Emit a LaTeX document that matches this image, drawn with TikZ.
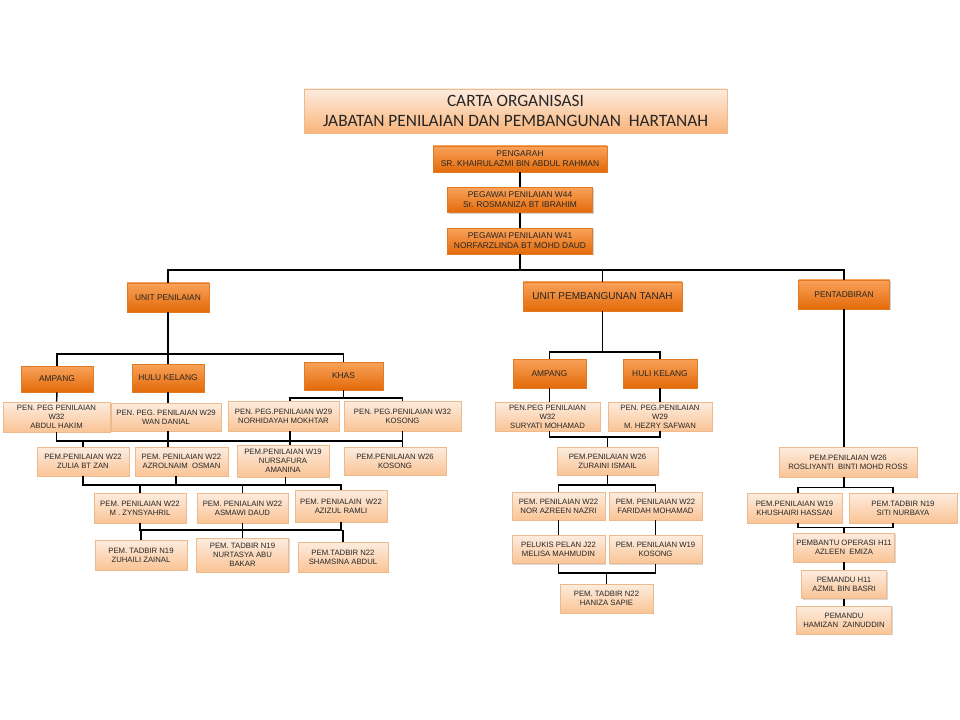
\documentclass[tikz,border=0pt]{standalone}
\usepackage{fontspec}
\setmainfont{Liberation Sans}
\newfontfamily\headfont{Carlito}
\usetikzlibrary{positioning, shadows}

\definecolor{orgtop}{HTML}{F9A25A}
\definecolor{orgbot}{HTML}{E36A08}
\definecolor{orgline}{HTML}{E07A24}
\definecolor{peachtop}{HTML}{FDECDF}
\definecolor{peachbot}{HTML}{FAC495}
\definecolor{peachline}{HTML}{EDBA8E}
\definecolor{headbot}{HTML}{F9B47A}

\begin{document}
\begin{tikzpicture}[
    x=0.75pt, y=-0.75pt,
    wh/.style 2 args={minimum width=#1*0.75pt, minimum height=#2*0.75pt},
    headbox/.style={draw=peachline, top color=peachtop, bottom color=headbot, align=center, inner sep=1pt, text=black!85, font=\headfont\fontsize{13}{15}\selectfont, drop shadow={shadow xshift=1pt, shadow yshift=-1pt, opacity=0.25}},
    dbox/.style={draw=orgline, top color=orgtop, bottom color=orgbot, align=center, inner sep=1pt, text=black!85, font=\fontsize{6.3}{7.5}\selectfont, drop shadow={shadow xshift=1pt, shadow yshift=-1pt, opacity=0.35}},
    lbox/.style={draw=peachline, top color=peachtop, bottom color=peachbot, align=center, inner sep=1pt, text=black!85, font=\fontsize{5.8}{6.8}\selectfont, drop shadow={shadow xshift=0.8pt, shadow yshift=-0.8pt, opacity=0.3}},
    conn/.style={line width=1.1pt}
  ]
    \useasboundingbox (0,0) rectangle (960,720);

    \node[headbox, wh={423}{44}] (head) at (515.5,111) {CARTA ORGANISASI\\JABATAN PENILAIAN DAN PEMBANGUNAN~ HARTANAH};

    \node[dbox, wh={174}{26}] (dir) at (520,159) {PENGARAH\\SR. KHAIRULAZMI BIN ABDUL RAHMAN};
    \node[dbox, wh={145}{25}, below=11.25pt of dir] (w44) {PEGAWAI PENILAIAN W44\\Sr. ROSMANIZA BT IBRAHIM};
    \node[dbox, wh={145}{26}, below=11.25pt of w44] (w41) {PEGAWAI PENILAIAN W41\\NORFARZLINDA BT MOHD DAUD};

    \node[dbox, wh={82}{29}] (unitpen) at (168,297.5) {UNIT PENILAIAN};
    \node[dbox, wh={159}{29}, font=\fontsize{7.5}{9}\selectfont] (unitpt) at (602.5,296.5) {UNIT PEMBANGUNAN TANAH};
    \node[dbox, wh={91}{29}] (pentad) at (844,294.5) {PENTADBIRAN};

    \node[dbox, wh={72}{26}] (ampang) at (57,379) {AMPANG};
    \node[dbox, wh={72}{28}] (hulu) at (168,378) {HULU KELANG};
    \node[dbox, wh={79}{28}] (khas) at (343.5,376) {KHAS};

    \node[lbox, wh={107}{30}] (ah) at (56.5,417) {PEN. PEG PENILAIAN\\W32\\ABDUL HAKIM};
    \node[lbox, wh={110}{28}] (wd) at (166,417) {PEN. PEG. PENILAIAN W29\\WAN DANIAL};
    \node[lbox, wh={111}{30}] (nm) at (283.5,416) {PEN. PEG.PENILAIAN W29\\NORHIDAYAH MOKHTAR};
    \node[lbox, wh={117}{30}] (ks1) at (402.5,416) {PEN. PEG.PENILAIAN W32\\KOSONG};

    \node[lbox, wh={92}{29}] (zulia) at (83,461.5) {PEM.PENILAIAN W22\\ZULIA BT ZAN};
    \node[lbox, wh={93}{29}] (azrol) at (181.5,461.5) {PEM. PENILAIAN W22\\AZROLNAIM~ OSMAN};
    \node[lbox, wh={92}{32}] (nurs) at (283,461) {PEM.PENILAIAN W19\\NURSAFURA\\AMANINA};
    \node[lbox, wh={102}{28}] (ks2) at (395,461) {PEM.PENILAIAN W26\\KOSONG};

    \node[lbox, wh={92}{30}] (zyn) at (140,508) {PEM. PENILAIAN W22\\M . ZYNSYAHRIL};
    \node[lbox, wh={91}{30}] (asm) at (242.5,508) {PEM. PENIALAIN W22\\ASMAWI DAUD};
    \node[lbox, wh={92}{32}] (azi) at (341,506) {PEM. PENIALAIN~ W22\\AZIZUL RAMLI};

    \node[lbox, wh={92}{30}] (zuh) at (141,555) {PEM. TADBIR N19\\ZUHAILI ZAINAL};
    \node[lbox, wh={92}{34}] (nurt) at (242.5,555) {PEM. TADBIR N19\\NURTASYA ABU\\BAKAR};
    \node[lbox, wh={90}{30}] (sham) at (343,557) {PEM.TADBIR N22\\SHAMSINA ABDUL};

    \node[dbox, wh={73}{29}] (ampb) at (549.5,373.5) {AMPANG};
    \node[dbox, wh={74}{29}] (hulib) at (660,373.5) {HULI KELANG};
    \node[lbox, wh={105}{29}] (sury) at (547.5,416.5) {PEN.PEG PENILAIAN\\W32\\SURYATI MOHAMAD};
    \node[lbox, wh={104}{29}] (hezry) at (660,416.5) {PEN. PEG.PENILAIAN\\W29\\M. HEZRY SAFWAN};
    \node[lbox, wh={101}{28}] (zur) at (607.5,461) {PEM.PENILAIAN W26\\ZURAINI ISMAIL};
    \node[lbox, wh={93}{28}] (nor) at (558.5,506) {PEM. PENILAIAN W22\\NOR AZREEN NAZRI};
    \node[lbox, wh={93}{28}] (far) at (655.5,506) {PEM. PENILAIAN W22\\FARIDAH MOHAMAD};
    \node[lbox, wh={93}{28}, below=11.25pt of nor] (pel) {PELUKIS PELAN J22\\MELISA MAHMUDIN};
    \node[lbox, wh={93}{28}, below=11.25pt of far] (ks3) {PEM. PENILAIAN W19\\KOSONG};
    \node[lbox, wh={93}{29}] (han) at (606.5,598.5) {PEM. TADBIR N22\\HANIZA SAPIE};

    \node[lbox, wh={138}{30}] (ros) at (848,462) {PEM.PENILAIAN W26\\ROSLIYANTI~ BINTI MOHD ROSS};
    \node[lbox, wh={95}{30}] (khu) at (794.5,508) {PEM.PENILAIAN W19\\KHUSHAIRI HASSAN};
    \node[lbox, wh={108}{30}] (siti) at (903,508) {PEM.TADBIR N19\\SITI NURBAYA};
    \node[lbox, wh={101}{29}] (pemb) at (844,547.5) {PEMBANTU OPERASI H11\\AZLEEN~ EMIZA};
    \node[lbox, wh={85}{28}, below=6pt of pemb] (pem1) {PEMANDU H11\\AZMIL BIN BASRI};
    \node[lbox, wh={95}{28}, below=5.25pt of pem1] (pem2) {PEMANDU\\HAMIZAN~ ZAINUDDIN};

    \coordinate (b1) at (0,270);
    \coordinate (b2) at (0,354);
    \coordinate (bk) at (0,398);
    \coordinate (b4) at (0,441);
    \coordinate (b5) at (0,485);
    \coordinate (b6) at (0,530);
    \coordinate (m2) at (0,352);
    \coordinate (m3) at (0,437);
    \coordinate (m4) at (0,485);
    \coordinate (m5) at (0,573);
    \coordinate (r3) at (0,488);
    \coordinate (r4) at (0,527);

    \draw[conn] (dir) -- (w44);
    \draw[conn] (w44) -- (w41);
    \draw[conn] (w41.south) -- (w41.south |- b1);
    \draw[conn] (unitpen.north) |- (pentad.north |- b1) -- (pentad.north);
    \draw[conn] (unitpt.north) -- (unitpt.north |- b1);

    \draw[conn] (unitpen) -- (hulu);
    \draw[conn] (ampang.north) |- (khas.north |- b2) -- (khas.north);
    \draw[conn] (ampang) -- (ah);
    \draw[conn] (hulu.south) -- (hulu.south |- wd.north);
    \draw[conn] (khas.south) -- (khas.south |- bk);
    \draw[conn] ([xshift=5pt]nm.north) |- (ks1.north |- bk) -- (ks1.north);

    \draw[conn] (ah.south) |- (ks1.south |- b4) -- (ks1.south);
    \draw[conn] (hulu.south |- wd.south) -- (hulu.south |- azrol.north);
    \draw[conn] ([xshift=5pt]nm.south) -- ++(0,14);
    \draw[conn] (ks1.south) -- (ks1.south |- ks2.north);
    \draw[conn] (zulia.north |- b4) -- (zulia.north);

    \draw[conn] (zulia.south) |- (azi.north |- b5) -- (azi.north);
    \draw[conn] ([xshift=-4pt]azrol.south) -- ++(0,9);
    \draw[conn] ([xshift=2pt]nurs.south) -- ++(0,8);
    \draw[conn] (zyn.north |- b5) -- (zyn.north);
    \draw[conn] (asm.north |- b5) -- (asm.north);

    \draw[conn] (zyn.south) |- (azi.south |- b6) -- (azi.south);
    \draw[conn] (asm) -- (nurt);
    \draw[conn] (zuh.north |- b6) -- (zuh.north);
    \draw[conn] (sham.north |- b6) -- (sham.north);

    \draw[conn] (unitpt.south) -- (unitpt.south |- m2);
    \draw[conn] (ampb.north) |- (hulib.north |- m2) -- (hulib.north);
    \draw[conn] (ampb.south) -- (ampb.south |- sury.north);
    \draw[conn] (hulib) -- (hezry);
    \draw[conn] (ampb.south |- sury.south) |- (hulib.south |- m3) -- (hulib.south |- hezry.south);
    \draw[conn] (zur.north |- m3) -- (zur.north);
    \draw[conn] (zur.south) -- (zur.south |- m4);
    \draw[conn] (nor.north) |- (far.north |- m4) -- (far.north);
    \draw[conn] (nor) -- (pel);
    \draw[conn] (far) -- (ks3);
    \draw[conn] (pel.south) |- (ks3.south |- m5) -- (ks3.south);
    \draw[conn] (han.north |- m5) -- (han.north);

    \draw[conn] (pentad.south) -- (pentad.south |- ros.north);
    \draw[conn] (pentad.south |- ros.south) -- (pentad.south |- r3);
    \draw[conn] ([xshift=2.6pt]khu.north) -- ++(0,-5) -| ([xshift=-7.5pt]siti.north);
    \draw[conn] ([xshift=2.6pt]khu.south) -- ++(0,4) -| ([xshift=-7.5pt]siti.south);
    \draw[conn] (pemb.north) -- (pemb.north |- r4);
    \draw[conn] (pemb) -- (pem1);
    \draw[conn] (pem1) -- (pem2);
  \end{tikzpicture}
\end{document}
